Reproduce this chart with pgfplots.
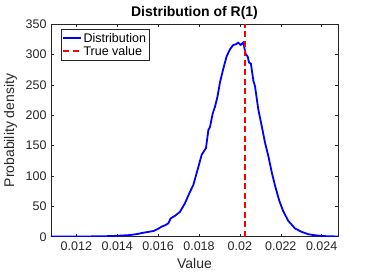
\documentclass[border=0pt]{standalone}
\usepackage{pgfplots}
\pgfplotsset{compat=1.18}
\usepackage{fontspec}
\setmainfont{Liberation Sans}
\definecolor{axgray}{gray}{0.15}
\begin{document}
\begin{tikzpicture}
\begin{axis}[
  name=ax,
  scale only axis,
  width=287pt, height=212.4pt,
  xmin=0.01076, xmax=0.0248,
  ymin=0, ymax=350,
  xtick={0.012,0.014,0.016,0.018,0.020,0.022,0.024},
  ytick={0,50,...,350},
  scaled x ticks=false,
  xticklabel style={/pgf/number format/fixed,/pgf/number format/precision=3, yshift=-1.5pt},
  yticklabel style={xshift=-1pt},
  /pgf/number format/assume math mode=true,
  tick align=inside,
  major tick length=3pt,
  axis line style={axgray, line width=0.5pt},
  tick style={axgray, line width=0.5pt},
  ticklabel style={font=\fontsize{12.5}{13}\selectfont, text=axgray},
  xlabel={Value}, ylabel={Probability density},
  label style={font=\fontsize{14}{15}\selectfont, text=axgray},
  xlabel style={at={(axis description cs:0.5,-0.1474)}, anchor=base},
  ylabel style={at={(axis description cs:-0.141,0.5)}, anchor=center, rotate=0},
  title={\textbf{Distribution of R(1)}},
  title style={font=\fontsize{14}{15}\selectfont, at={(axis description cs:0.5,1.0358)}, anchor=base, yshift=-6pt},
  legend style={at={(0.034,0.976)}, anchor=north west, font=\fontsize{12.5}{13}\selectfont,
    draw=axgray, inner sep=1.5pt, row sep=-1.5pt},
  legend cell align=left,
]
\addplot[blue, line width=1.8pt, forget plot] coordinates {
(0.01076,0.3) (0.0115,0.3) (0.0125,0.4) (0.0130,0.6) (0.0135,0.9) (0.0140,1.5)
(0.01462,2.7) (0.01500,4.5) (0.01528,6.6) (0.01577,9.3) (0.01600,13) (0.01617,16.5)
(0.01635,19) (0.0165,22) (0.01661,30) (0.01685,35) (0.01707,41) (0.01731,55)
(0.01756,74) (0.01772,85) (0.01797,115) (0.01813,135) (0.01834,146) (0.01846,176)
(0.01854,181) (0.01867,203) (0.01878,214) (0.0189,230) (0.01903,255) (0.01919,277)
(0.01935,297) (0.01952,309) (0.01968,316) (0.01980,317) (0.01992,319.8) (0.02004,316)
(0.02017,320) (0.02028,301) (0.02038,297) (0.02045,287) (0.02054,285) (0.02066,257)
(0.02074,248) (0.0209,210) (0.02107,182) (0.02123,155) (0.02139,133) (0.02156,106)
(0.02172,84) (0.02193,59) (0.02212,42) (0.02237,26) (0.0227,13.5) (0.02302,8)
(0.02335,4) (0.02367,2.4) (0.0240,1.2) (0.0244,0.6) (0.0248,0.4)
};
\addplot[red, line width=1.8pt, dash pattern=on 6pt off 3.5pt, forget plot] coordinates {(0.02025,0) (0.02025,350)};
\addlegendimage{blue, line width=2pt}
\addlegendentry{Distribution}
\addlegendimage{red, line width=2pt, dash pattern=on 6pt off 3.5pt}
\addlegendentry{True value}
\end{axis}
\pgfresetboundingbox
\path[use as bounding box] ([shift={(-51pt,-43.3pt)}]ax.south west) rectangle ([shift={(36pt,24.3pt)}]ax.north east);
\end{tikzpicture}
\end{document}
